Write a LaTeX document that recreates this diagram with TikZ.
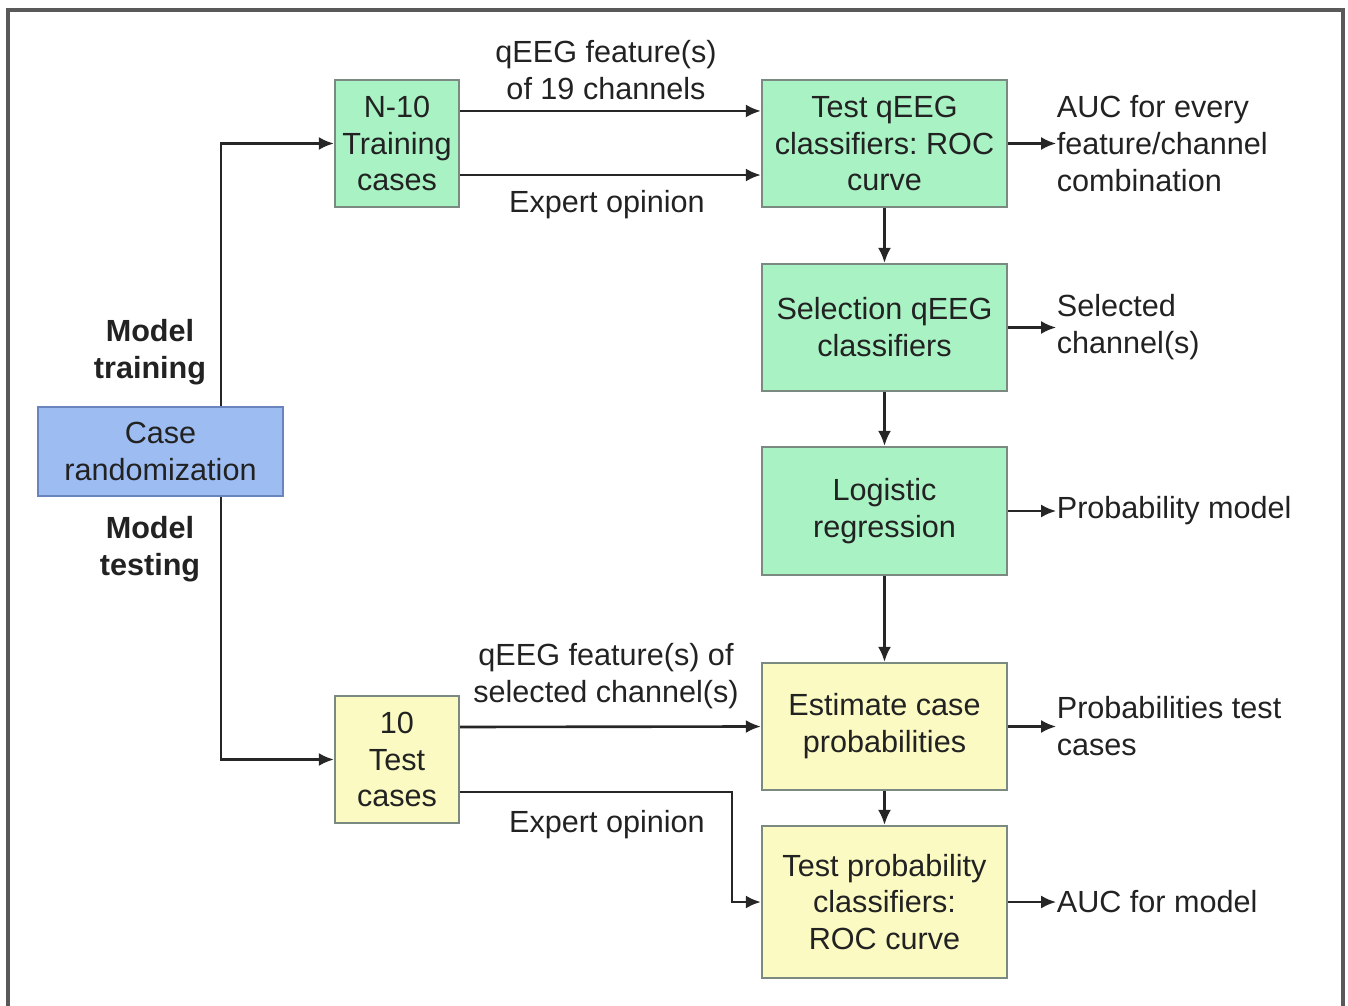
\documentclass[tikz,border=0pt]{standalone}
\usepackage{fontspec}
\setmainfont{Liberation Sans}
\usetikzlibrary{arrows.meta,calc,positioning}
\frenchspacing

\definecolor{boxgreen}{HTML}{A9F2C4}
\definecolor{boxyellow}{HTML}{FAFAC2}
\definecolor{boxblue}{HTML}{9DBCF2}
\definecolor{edgegray}{HTML}{7A8A80}
\definecolor{edgeblue}{HTML}{6A84BE}
\definecolor{txt}{HTML}{222222}

\begin{document}
\begin{tikzpicture}[x=0.01cm,y=-0.01cm,
    every node/.style={font=\fontsize{8.7}{10.5}\selectfont,text=txt},
    block/.style={draw=edgegray,line width=0.6pt,align=center,inner sep=1pt},
    greenbox/.style={block,fill=boxgreen},
    yellowbox/.style={block,fill=boxyellow},
    bluebox/.style={block,draw=edgeblue,fill=boxblue},
    lbl/.style={align=left,anchor=west,inner sep=0pt},
    arr/.style={-{Latex[length=1.5mm,width=1.3mm]},line width=0.75pt,draw=black!85}]
    \useasboundingbox (0,0) rectangle (1348,1006);
    \draw[line width=0.9pt,draw=black!65] (8,10) rectangle (1343,1020);
    % boxes
    \node[bluebox,minimum width=2.45cm,minimum height=0.89cm] (rand) at (160.5,451.5) {Case\\randomization};
    \node[greenbox,minimum width=1.24cm,minimum height=1.27cm] (train) at (397,143.5) {N-10\\Training\\cases};
    \node[yellowbox,minimum width=1.24cm,minimum height=1.27cm] (tcases) at (397,759.5) {10\\Test\\cases};
    \node[greenbox,minimum width=2.45cm,minimum height=1.27cm] (testq) at (884.5,143.5) {Test qEEG\\classifiers: ROC\\curve};
    \node[greenbox,minimum width=2.45cm,minimum height=1.27cm] (select) at (884.5,327.5) {Selection qEEG\\classifiers};
    \node[greenbox,minimum width=2.45cm,minimum height=1.28cm] (logreg) at (884.5,511) {Logistic\\regression};
    \node[yellowbox,minimum width=2.45cm,minimum height=1.27cm] (estim) at (884.5,726.5) {Estimate case\\probabilities};
    \node[yellowbox,minimum width=2.45cm,minimum height=1.52cm] (testp) at (884.5,902) {Test probability\\classifiers:\\ROC curve};
    % left branch
    \coordinate (split) at (221,451.5);
    \draw[arr] (split |- rand.north) |- (train.west);
    \draw[arr] (split |- rand.south) |- (tcases.west);
    \node[font=\fontsize{8.7}{10.5}\selectfont\bfseries,align=center] (mtrain) at (150,352) {Model\\training};
    \node[font=\fontsize{8.7}{10.5}\selectfont\bfseries,align=center] (mtest) at (150,549) {Model\\testing};
    % training inputs
    \draw[arr] ([yshift=3.25mm]train.east) -- ([yshift=3.25mm]testq.west);
    \draw[arr] ([yshift=-3.15mm]train.east) -- ([yshift=-3.15mm]testq.west);
    \node[align=center] (feat) at (606,70) {qEEG feature(s)\\of 19 channels};
    \node (exp1) at (607,205) {Expert opinion};
    % testing inputs
    \draw[arr] ([yshift=3.25mm]tcases.east) -- (estim.west);
    \draw[arr] ([yshift=-3.25mm]tcases.east) -| ([xshift=-2.9mm]testp.west) -- (testp.west);
    \node[align=center] (featsel) at (606,676) {qEEG feature(s) of\\selected channel(s)};
    \node (exp2) at (607,825) {Expert opinion};
    % main column
    \draw[arr] (testq) -- (select);
    \draw[arr] (select) -- (logreg);
    \draw[arr] (logreg) -- (estim);
    \draw[arr] (estim) -- (testp);
    % outputs
    \foreach \src/\name/\txt in {testq/auc/{AUC for every\\feature/channel\\combination},
        select/chan/{Selected\\channel(s)},
        logreg/pmod/{Probability model},
        estim/ptest/{Probabilities test\\cases},
        testp/aucm/{AUC for model}}{
        \node[lbl,right=0.48cm of \src.east] (\name) {\txt};
        \draw[arr] (\src.east) -- (\name.west);
    }
\end{tikzpicture}
\end{document}
